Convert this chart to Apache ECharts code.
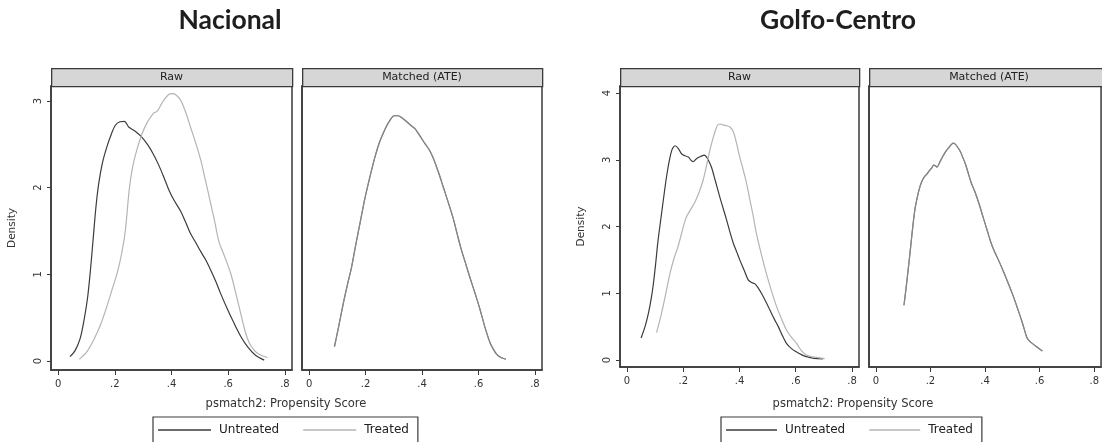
<!DOCTYPE html>
<html><head><meta charset="utf-8">
<script src="https://cdn.jsdelivr.net/npm/echarts@6/dist/echarts.min.js"></script>
<style>html,body{margin:0;padding:0;background:#fff;overflow:hidden}#c{width:1102px;height:442px}</style>
</head><body><div id="c"></div>
<script>
// ---- data ----
const groupTitles = ['Nacional', 'Golfo-Centro'];
const panelLabels = ['Raw', 'Matched (ATE)'];
const seriesNames = ['Untreated', 'Treated'];
const xAxisTitle = 'psmatch2: Propensity Score';
const yAxisTitle = 'Density';
const xTicks = [0, 0.2, 0.4, 0.6, 0.8];
const yTicksNacional = [0, 1, 2, 3];
const yTicksGolfo = [0, 1, 2, 3, 4];

const nacionalRawUntreated = [
  [0.042,0.05],[0.06,0.12],[0.078,0.26],[0.092,0.48],[0.104,0.73],[0.113,1.01],[0.124,1.42],
  [0.133,1.76],[0.143,2.04],[0.156,2.28],[0.172,2.47],[0.188,2.62],[0.202,2.72],[0.218,2.76],
  [0.234,2.765],[0.249,2.70],[0.272,2.65],[0.296,2.58],[0.317,2.49],[0.337,2.38],[0.355,2.26],
  [0.373,2.12],[0.39,1.98],[0.408,1.86],[0.432,1.73],[0.45,1.60],[0.467,1.47],[0.485,1.37],
  [0.50,1.28],[0.52,1.17],[0.538,1.05],[0.556,0.92],[0.573,0.78],[0.597,0.60],[0.62,0.44],
  [0.645,0.28],[0.668,0.165],[0.695,0.07],[0.727,0.01]
];
const nacionalRawTreated = [
  [0.075,0.02],[0.10,0.10],[0.125,0.24],[0.15,0.42],[0.172,0.63],[0.192,0.84],[0.208,1.01],
  [0.223,1.22],[0.237,1.50],[0.251,1.98],[0.263,2.24],[0.279,2.45],[0.296,2.62],[0.314,2.75],
  [0.337,2.86],[0.349,2.88],[0.36,2.94],[0.373,3.01],[0.39,3.075],[0.403,3.085],[0.414,3.075],
  [0.432,3.01],[0.45,2.87],[0.467,2.70],[0.485,2.52],[0.503,2.32],[0.52,2.08],[0.538,1.82],
  [0.553,1.60],[0.567,1.38],[0.588,1.20],[0.609,1.01],[0.627,0.78],[0.644,0.55],[0.66,0.34],
  [0.674,0.21],[0.69,0.13],[0.703,0.09],[0.72,0.06],[0.739,0.04]
];
const nacionalMatched = [
  [0.09,0.165],[0.105,0.40],[0.121,0.66],[0.136,0.88],[0.151,1.09],[0.163,1.30],[0.175,1.50],
  [0.187,1.70],[0.198,1.88],[0.21,2.05],[0.222,2.21],[0.234,2.36],[0.248,2.51],[0.263,2.63],
  [0.276,2.72],[0.287,2.78],[0.301,2.83],[0.315,2.83],[0.328,2.81],[0.346,2.76],[0.36,2.72],
  [0.375,2.68],[0.392,2.60],[0.41,2.51],[0.425,2.44],[0.44,2.34],[0.458,2.18],[0.475,2.01],
  [0.493,1.83],[0.511,1.64],[0.525,1.46],[0.538,1.30],[0.553,1.14],[0.57,0.96],[0.588,0.78],
  [0.605,0.60],[0.622,0.40],[0.64,0.22],[0.652,0.14],[0.664,0.08],[0.68,0.04],[0.697,0.02]
];
const golfoRawUntreated = [
  [0.05,0.33],[0.064,0.50],[0.076,0.70],[0.086,0.92],[0.094,1.15],[0.102,1.45],[0.11,1.78],
  [0.123,2.20],[0.133,2.52],[0.141,2.76],[0.15,2.98],[0.159,3.14],[0.165,3.19],[0.171,3.21],
  [0.182,3.17],[0.192,3.10],[0.20,3.07],[0.218,3.04],[0.228,2.99],[0.235,2.97],[0.248,3.02],
  [0.262,3.05],[0.275,3.07],[0.283,3.04],[0.292,2.97],[0.301,2.88],[0.315,2.67],[0.33,2.44],
  [0.342,2.27],[0.354,2.10],[0.365,1.93],[0.378,1.75],[0.39,1.62],[0.401,1.50],[0.417,1.34],
  [0.431,1.20],[0.443,1.16],[0.455,1.14],[0.468,1.07],[0.478,1.00],[0.493,0.88],[0.508,0.75],
  [0.523,0.62],[0.538,0.50],[0.552,0.37],[0.567,0.25],[0.585,0.17],[0.603,0.12],[0.62,0.08],
  [0.638,0.05],[0.665,0.025],[0.697,0.015]
];
const golfoRawTreated = [
  [0.105,0.41],[0.117,0.60],[0.129,0.82],[0.141,1.06],[0.153,1.30],[0.167,1.52],[0.18,1.68],
  [0.193,1.88],[0.203,2.04],[0.212,2.15],[0.227,2.26],[0.242,2.37],[0.257,2.52],[0.271,2.70],
  [0.28,2.86],[0.289,3.04],[0.298,3.20],[0.307,3.34],[0.316,3.46],[0.324,3.53],[0.333,3.535],
  [0.342,3.52],[0.355,3.51],[0.366,3.49],[0.378,3.42],[0.39,3.24],[0.401,3.04],[0.413,2.85],
  [0.425,2.65],[0.437,2.40],[0.449,2.15],[0.46,1.90],[0.472,1.68],[0.487,1.43],[0.502,1.20],
  [0.517,0.99],[0.532,0.80],[0.55,0.61],[0.567,0.45],[0.585,0.34],[0.603,0.25],[0.62,0.14],
  [0.638,0.075],[0.655,0.05],[0.674,0.04],[0.703,0.02]
];
const golfoMatched = [
  [0.103,0.82],[0.11,1.05],[0.117,1.30],[0.123,1.52],[0.129,1.75],[0.136,2.02],[0.143,2.25],
  [0.151,2.42],[0.159,2.56],[0.168,2.67],[0.177,2.74],[0.186,2.78],[0.195,2.83],[0.205,2.88],
  [0.212,2.92],[0.218,2.91],[0.224,2.89],[0.236,2.98],[0.248,3.07],[0.259,3.14],[0.269,3.19],
  [0.277,3.23],[0.284,3.25],[0.292,3.23],[0.301,3.18],[0.31,3.12],[0.319,3.03],[0.328,2.94],
  [0.337,2.82],[0.349,2.66],[0.363,2.52],[0.378,2.34],[0.393,2.14],[0.408,1.94],[0.42,1.78],
  [0.433,1.64],[0.449,1.50],[0.467,1.33],[0.485,1.15],[0.503,0.96],[0.521,0.75],[0.538,0.54],
  [0.554,0.33],[0.564,0.28],[0.574,0.245],[0.592,0.19],[0.61,0.135]
];

// ---- layout / style ----
const C_UNT = '#3c3c3c', C_TRT = '#b4b4b4', C_MAT = '#858585', C_FRAME = '#3a3a3a';
const FONT = 'DejaVu Sans';
const W = 1102, H = 442;
const grids = [
  {left: 51, right: 810, top: 86, bottom: 72},
  {left: 302, right: 560, top: 86, bottom: 72},
  {left: 620, right: 243, top: 86, bottom: 75},
  {left: 869, right: -7, top: 86, bottom: 75}
];
const yRanges = [[-0.104, 3.173], [-0.104, 3.173], [-0.105, 4.105], [-0.105, 4.105]];
const yTickSets = [yTicksNacional, yTicksNacional, yTicksGolfo, yTicksGolfo];

const fmtX = v => v === 0 ? '0' : String(+v.toFixed(1)).replace('0.', '.');

const xAxes = grids.map((g, i) => ({
  type: 'value', gridIndex: i, min: -0.025, max: 0.825,
  splitLine: {show: false},
  axisLine: {show: true, onZero: false, lineStyle: {color: C_FRAME, width: 1.5}},
  axisTick: {show: true, length: 5, customValues: xTicks, lineStyle: {color: C_FRAME, width: 1}},
  axisLabel: {customValues: xTicks, formatter: fmtX, fontFamily: FONT, fontSize: 10, color: '#333', margin: 9}
}));
const yAxes = grids.map((g, i) => {
  const isRaw = i % 2 === 0;
  return {
    type: 'value', gridIndex: i, min: yRanges[i][0], max: yRanges[i][1],
    splitLine: {show: false},
    axisLine: {show: true, onZero: false, lineStyle: {color: C_FRAME, width: 1.5}},
    axisTick: {show: isRaw, length: 4, customValues: yTickSets[i], lineStyle: {color: C_FRAME}},
    axisLabel: {show: isRaw, customValues: yTickSets[i], rotate: 90, fontFamily: FONT, fontSize: 10, color: '#333', margin: 8,
      formatter: v => String(Math.round(v))},
    name: isRaw ? yAxisTitle : '', nameLocation: 'middle', nameRotate: 90, nameGap: 33,
    nameTextStyle: {fontFamily: FONT, fontSize: 10.5, color: '#333'}
  };
});

function lineSeries(name, data, idx, color, width) {
  return {
    type: 'line', name, data, xAxisIndex: idx, yAxisIndex: idx,
    symbol: 'none', showSymbol: false, smooth: 0.3, lineStyle: {color, width}, itemStyle: {color}, z: 3
  };
}
const series = [
  lineSeries(seriesNames[0], nacionalRawUntreated, 0, C_UNT, 1.2),
  lineSeries(seriesNames[1], nacionalRawTreated, 0, C_TRT, 1.2),
  lineSeries(seriesNames[0], nacionalMatched, 1, C_MAT, 1.2),
  lineSeries(seriesNames[1], nacionalMatched, 1, C_MAT, 1.2),
  lineSeries(seriesNames[0], golfoRawUntreated, 2, C_UNT, 1.2),
  lineSeries(seriesNames[1], golfoRawTreated, 2, C_TRT, 1.2),
  lineSeries(seriesNames[0], golfoMatched, 3, C_MAT, 1.2),
  lineSeries(seriesNames[1], golfoMatched, 3, C_MAT, 1.2)
];

const graphics = [];
// group titles and shared x-axis titles
const titleCenters = [230, 838];
const axisTitleCenters = [286, 853];
groupTitles.forEach((t, i) => {
  graphics.push({type: 'text', x: titleCenters[i], y: 20,
    style: {text: t, fontFamily: 'Lato', fontWeight: 'bold', fontSize: 26.5, fill: '#1e1e1e', align: 'center', verticalAlign: 'middle'}});
  graphics.push({type: 'text', x: axisTitleCenters[i], y: 404,
    style: {text: xAxisTitle, fontFamily: FONT, fontSize: 11.5, fill: '#333', align: 'center', verticalAlign: 'middle'}});
});
// panel header strips
grids.forEach((g, i) => {
  const w = W - g.left - g.right;
  graphics.push({type: 'rect', left: g.left, top: 68, shape: {x: 0, y: 0, width: w, height: 18},
    style: {fill: '#d6d6d6', stroke: C_FRAME, lineWidth: 1.3}, z: 10});
  graphics.push({type: 'text', x: g.left + w / 2, y: 77,
    style: {text: panelLabels[i % 2], fontFamily: FONT, fontSize: 11, fill: '#222', align: 'center', verticalAlign: 'middle'}, z: 11});
});

const legendBase = {
  top: 417, data: seriesNames, icon: 'rect', itemHeight: 1.3, itemGap: 24,
  borderColor: C_FRAME, borderWidth: 1.2, padding: [7, 9, 12, 5], selectedMode: false,
  textStyle: {fontFamily: FONT, fontSize: 12, color: '#222', padding: [0, 0, 0, 3]}
};
const option = {
  animation: false,
  backgroundColor: '#fff',
  legend: [
    Object.assign({}, legendBase, {left: 153, itemWidth: 53}),
    Object.assign({}, legendBase, {left: 721, itemWidth: 51})
  ],
  grid: grids.map(g => Object.assign({show: true, borderColor: C_FRAME, borderWidth: 1.5, backgroundColor: '#fff', containLabel: false}, g)),
  xAxis: xAxes,
  yAxis: yAxes,
  series,
  graphic: graphics
};
const chart = echarts.init(document.getElementById('c'), null, {renderer: 'canvas'});
chart.setOption(option);
</script>
</body></html>
